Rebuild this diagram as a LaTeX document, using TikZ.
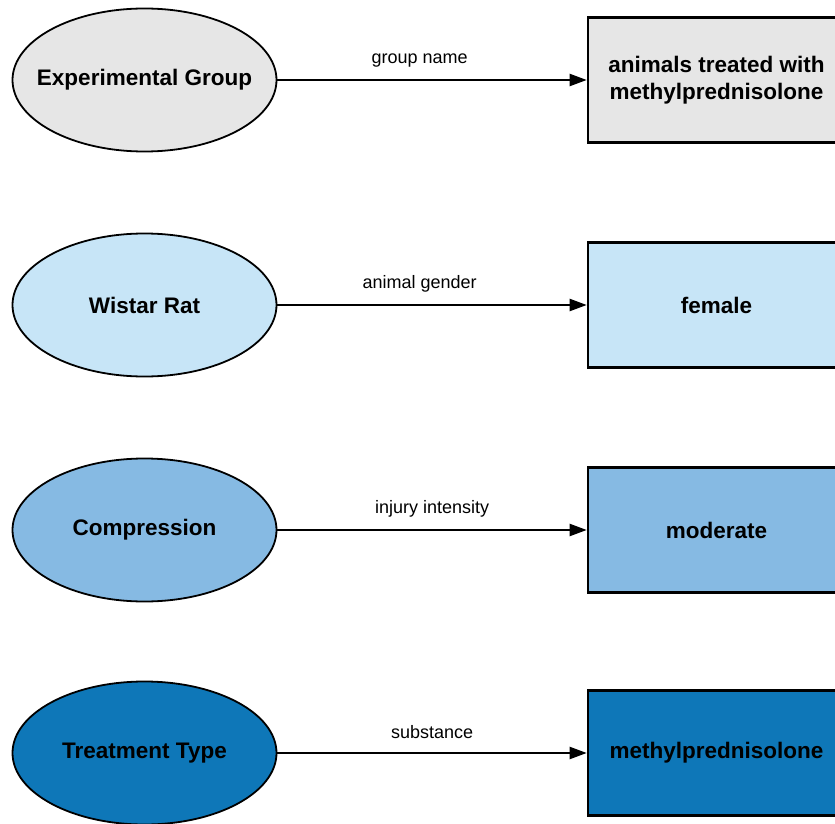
\documentclass[tikz,border=0pt]{standalone}
\usepackage{fontspec}
\setmainfont{Liberation Sans}
\usetikzlibrary{shapes.geometric,arrows.meta}
\definecolor{greyfill}{HTML}{E6E6E6}
\definecolor{paleblue}{HTML}{C7E5F7}
\definecolor{midblue}{HTML}{86BAE3}
\definecolor{deepblue}{HTML}{0E77B8}
\newcommand{\conceptname}[1]{\makebox[0pt]{#1}}
\tikzset{
  x=1pt, y=-1pt,
  concept/.style={ellipse, draw=black, line width=1.8pt, minimum width=264pt, minimum height=143pt,
    inner sep=0pt, font=\fontsize{22.5}{27}\selectfont\bfseries},
  valuebox/.style={rectangle, draw=black, line width=2.6pt, minimum width=257pt, minimum height=125pt,
    inner sep=0pt, align=center, font=\fontsize{22.5}{27}\selectfont\bfseries},
  relation/.style={draw=black, line width=2.2pt, -{Triangle[length=17pt,width=12pt]}},
  rellabel/.style={font=\fontsize{18}{22}\selectfont, inner sep=0pt}
}
\begin{document}
\begin{tikzpicture}
\clip (0,0) rectangle (835,824);
\fill[white] (0,0) rectangle (835,824);

% subject concepts
\node[concept, fill=greyfill] (e1) at (144.5,80) {\conceptname{Experimental Group}};
\node[concept, fill=paleblue] (e2) at (144.5,305) {\conceptname{Wistar Rat}};
\node[concept, fill=midblue]  (e3) at (144.5,530) {\conceptname{Compression}};
\node[concept, fill=deepblue] (e4) at (144.5,753) {\conceptname{Treatment Type}};

% property values
\node[valuebox, fill=greyfill] (r1) at (716.5,80) {animals treated with\\methylprednisolone};
\node[valuebox, fill=paleblue] (r2) at (716.5,305) {female};
\node[valuebox, fill=midblue]  (r3) at (716.5,530) {moderate};
\node[valuebox, fill=deepblue] (r4) at (716.5,753) {methylprednisolone};

% relations
\draw[relation] (e1) -- (r1) node[rellabel, pos=0.46, yshift=19pt] {group name};
\draw[relation] (e2) -- (r2) node[rellabel, pos=0.46, yshift=21pt] {animal gender};
\draw[relation] (e3) -- (r3) node[rellabel, pos=0.5, yshift=21pt] {injury intensity};
\draw[relation] (e4) -- (r4) node[rellabel, pos=0.5, yshift=21pt] {substance};
\end{tikzpicture}
\end{document}
